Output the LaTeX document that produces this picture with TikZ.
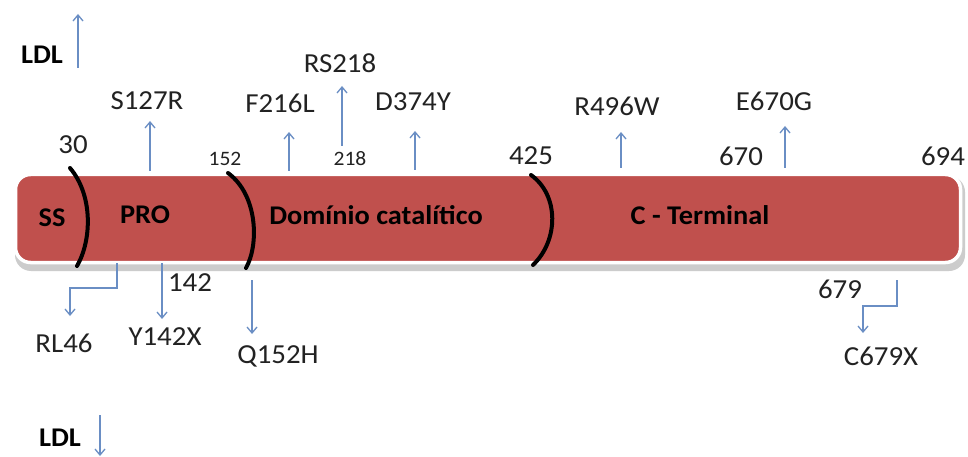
\documentclass[tikz,border=0pt]{standalone}
\usepackage{fontspec}
\setmainfont[FakeStretch=1.05]{Carlito}
\usetikzlibrary{arrows.meta}
\definecolor{barred}{HTML}{C0504D}
\definecolor{arrblue}{HTML}{6A8EC4}
\definecolor{txt}{HTML}{222222}
\tikzset{
  lbl/.style={font=\fontsize{27.5}{29}\selectfont, text=txt, inner sep=0pt},
  small/.style={font=\fontsize{20.5}{22}\selectfont, text=txt, inner sep=0pt},
  bld/.style={font=\fontsize{27}{29}\selectfont\bfseries, text=black, inner sep=0pt},
  arr/.style={draw=arrblue, line width=1.3pt, -{Straight Barb[length=6pt,width=10pt,line width=1.3pt]}},
  sep/.style={draw=black, line width=4pt, line cap=round},
}
\begin{document}
\begin{tikzpicture}[x=1pt,y=-1pt]
\useasboundingbox (0,0) rectangle (968,457);
\fill[white] (0,0) rectangle (968,457);
% shadow and bar
\fill[black!20, rounded corners=16pt] (15,176) rectangle (965,271);
\node[draw=white, line width=3.5pt, fill=barred, rounded corners=15pt,
      minimum width=945pt, minimum height=88pt, inner sep=0pt] (bar) at (488,218.5) {};
% separators
\draw[sep] (70,168) .. controls (93,195) and (92,240) .. (77,266);
\draw[sep] (228,173) .. controls (258,195) and (259,245) .. (246,268);
\draw[sep] (531,175) .. controls (559,195) and (559,240) .. (533,265);
% domain labels
\node[bld] (ss) at (52,218) {SS};
\node[bld] (pro) at (145,215) {PRO};
\node[bld] (dom) at (376,215) {Domínio catalítico};
\node[bld] (cterm) at (700,215) {C - Terminal};
% position numbers
\node[lbl] (n30) at (73,145) {30};
\node[small] (n152) at (225,159) {152};
\node[small] (n218) at (350,159) {218};
\node[lbl] (n425) at (531,156) {425};
\node[lbl] (n670) at (741,156) {670};
\node[lbl] (n694) at (943,156) {694};
\node[lbl] (n142) at (190,283) {142};
\node[lbl] (n679) at (840,289) {679};
% mutation labels (top)
\node[bld] (ldltop) at (42,55) {LDL};
\node[lbl] (s127r) at (147,101) {S127R};
\node[lbl] (f216l) at (280,103) {F216L};
\node[lbl] (rs218) at (340,63) {RS218};
\node[lbl] (d374y) at (413,102) {D374Y};
\node[lbl] (r496w) at (617,106) {R496W};
\node[lbl] (e670g) at (774,101) {E670G};
% mutation labels (bottom)
\node[lbl] (rl46) at (64,343) {RL46};
\node[lbl] (y142x) at (165,337) {Y142X};
\node[lbl] (q152h) at (278,356) {Q152H};
\node[lbl] (c679x) at (881,356) {C679X};
\node[bld] (ldlbot) at (60,438) {LDL};
% arrow coordinates
\coordinate (a1s) at (78,68);   \coordinate (a1e) at (78,14);
\coordinate (a2s) at (150,171); \coordinate (a2e) at (150,121);
\coordinate (a3s) at (289,171); \coordinate (a3e) at (289,132);
\coordinate (a4s) at (342,146); \coordinate (a4e) at (342,86);
\coordinate (a5s) at (415,170); \coordinate (a5e) at (415,131);
\coordinate (a6s) at (621,168); \coordinate (a6e) at (621,132);
\coordinate (a7s) at (785,168); \coordinate (a7e) at (785,126);
\coordinate (b1s) at (117,263); \coordinate (b1m) at (117,288);
\coordinate (b1n) at (70,288);  \coordinate (b1e) at (70,316);
\coordinate (b2s) at (162,263); \coordinate (b2e) at (162,319);
\coordinate (b3s) at (252,280); \coordinate (b3e) at (252,334);
\coordinate (b4s) at (897,280); \coordinate (b4m) at (897,306);
\coordinate (b4n) at (863,306); \coordinate (b4e) at (863,333);
\coordinate (b5s) at (100,415); \coordinate (b5e) at (100,456);
% arrows
\draw[arr] (a1s) -- (a1e);
\draw[arr] (a2s) -- (a2e);
\draw[arr] (a3s) -- (a3e);
\draw[arr] (a4s) -- (a4e);
\draw[arr] (a5s) -- (a5e);
\draw[arr] (a6s) -- (a6e);
\draw[arr] (a7s) -- (a7e);
\draw[arr] (b1s) -- (b1m) -- (b1n) -- (b1e);
\draw[arr] (b2s) -- (b2e);
\draw[arr] (b3s) -- (b3e);
\draw[arr] (b4s) -- (b4m) -- (b4n) -- (b4e);
\draw[arr] (b5s) -- (b5e);
\end{tikzpicture}
\end{document}
